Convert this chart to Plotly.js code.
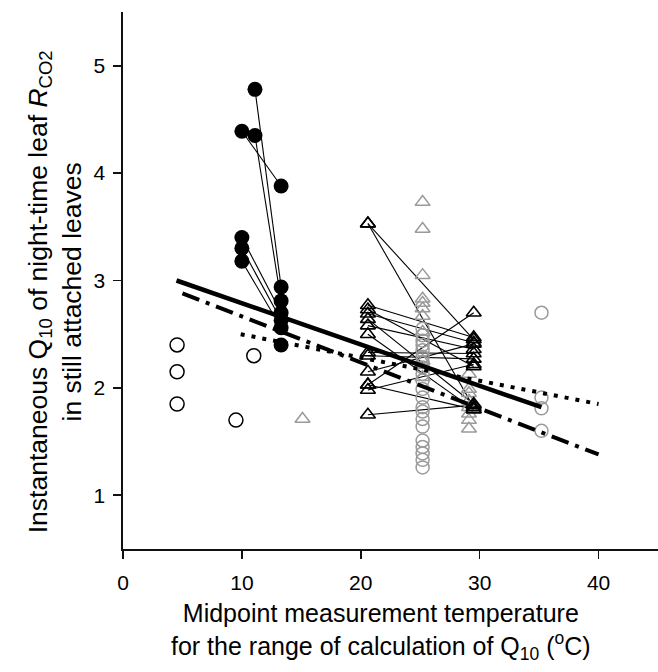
<!DOCTYPE html>
<html><head><meta charset="utf-8">
<script src="https://cdn.plot.ly/plotly-3.0.1.min.js"></script>
<style>html,body{margin:0;padding:0;background:#fff}#chart{width:658px;height:672px}</style>
</head><body><div id="chart"></div>
<script>
// Cool-temperature leaves (filled circles), paired Q10 at low and high midpoints
var coolT1 = [11.1, 10.0, 11.1, 10.0, 10.0, 10.0];
var coolQ1 = [4.78, 4.39, 4.35, 3.40, 3.30, 3.18];
var coolT2 = [13.3, 13.3, 13.3, 13.3, 13.3, 13.3];
var coolQ2 = [2.94, 3.88, 2.81, 2.70, 2.63, 2.56];
var coolExtraT = [13.3];
var coolExtraQ = [2.40];

// Warm-temperature leaves (black open triangles), paired
var warmT1 = [20.6,20.6,20.6,20.6,20.6,20.6,20.6,20.6,20.6,20.6,20.6,20.6,20.6,20.6,20.6];
var warmQ1 = [3.53,3.53,2.77,2.73,2.69,2.64,2.58,2.50,2.33,2.30,2.15,2.03,1.98,2.03,1.75];
var warmT2 = [29.5,29.5,29.5,29.5,29.5,29.5,29.5,29.5,29.5,29.5,29.5,29.5,29.5,29.5,29.5];
var warmQ2 = [2.45,1.82,2.47,2.20,2.42,1.85,2.36,1.80,2.32,2.27,2.41,2.70,2.22,1.80,1.84];

// Open black circles
var openBlackT = [4.55, 4.55, 4.55, 9.5, 11.0];
var openBlackQ = [2.40, 2.15, 1.85, 1.70, 2.30];

// Grey open triangles
var greyTriT = [15.1, 25.2,25.2,25.2,25.2,25.2,25.2,25.2,25.2,25.2,25.2, 29.1,29.1,29.1,29.1,29.1,29.1,29.1,29.1];
var greyTriQ = [1.71, 3.73,3.48,3.05,2.83,2.79,2.74,2.67,2.52,2.25,2.10, 2.13,1.99,1.95,1.88,1.82,1.76,1.70,1.62];

// Grey open circles
var greyCirT = [25.2,25.2,25.2,25.2,25.2,25.2,25.2,25.2,25.2,25.2,25.2,25.2,25.2,25.2,25.2,25.2,25.2,25.2,25.2,25.2,25.2, 35.2,35.2,35.2,35.2];
var greyCirQ = [2.55,2.49,2.44,2.40,2.35,2.29,2.24,2.19,2.13,2.07,1.99,1.91,1.82,1.78,1.71,1.64,1.51,1.45,1.39,1.33,1.26, 2.70,1.91,1.81,1.60];

// Regression lines
var fitSolidT = [4.5, 35.2];   var fitSolidQ = [3.00, 1.82];
var fitDashDotT = [5.0, 40.0]; var fitDashDotQ = [2.88, 1.38];
var fitDotT = [9.9, 40.0];     var fitDotQ = [2.50, 1.85];

var xTicks = [0, 10, 20, 30, 40];
var yTicks = [1, 2, 3, 4, 5];

var grey = '#9a9a9a';
var traces = [];

function pairs(t1, q1, t2, q2) {
  for (var i = 0; i < t1.length; i++) {
    traces.push({x: [t1[i], t2[i]], y: [q1[i], q2[i]], mode: 'lines', type: 'scatter',
      line: {color: '#000', width: 1.1}, hoverinfo: 'skip', showlegend: false});
  }
}
pairs(coolT1, coolQ1, coolT2, coolQ2);
pairs(warmT1, warmQ1, warmT2, warmQ2);

traces.push({x: greyCirT, y: greyCirQ, mode: 'markers', type: 'scatter', showlegend: false,
  marker: {symbol: 'circle-open', size: 13, color: grey, line: {width: 1.5, color: grey}}});
traces.push({x: greyTriT, y: greyTriQ, mode: 'markers', type: 'scatter', showlegend: false,
  marker: {symbol: 'triangle-up-open', size: 13, color: grey, line: {width: 1.5, color: grey}}});
traces.push({x: openBlackT, y: openBlackQ, mode: 'markers', type: 'scatter', showlegend: false,
  marker: {symbol: 'circle-open', size: 14, color: '#000', line: {width: 1.5, color: '#000'}}});

traces.push({x: fitSolidT, y: fitSolidQ, mode: 'lines', type: 'scatter', showlegend: false,
  line: {color: '#000', width: 4.5}});
traces.push({x: fitDashDotT, y: fitDashDotQ, mode: 'lines', type: 'scatter', showlegend: false,
  line: {color: '#000', width: 4, dash: '18px,7px,4px,7px'}});
traces.push({x: fitDotT, y: fitDotQ, mode: 'lines', type: 'scatter', showlegend: false,
  line: {color: '#000', width: 4, dash: '4px,7px'}});

var wT = warmT1.concat(warmT2), wQ = warmQ1.concat(warmQ2);
traces.push({x: wT, y: wQ, mode: 'markers', type: 'scatter', showlegend: false,
  marker: {symbol: 'triangle-up-open', size: 13, color: '#000', line: {width: 1.6, color: '#000'}}});
var cT = coolT1.concat(coolT2, coolExtraT), cQ = coolQ1.concat(coolQ2, coolExtraQ);
traces.push({x: cT, y: cQ, mode: 'markers', type: 'scatter', showlegend: false,
  marker: {symbol: 'circle', size: 15, color: '#000', line: {width: 0}}});

var font = 'Liberation Sans, Arial, sans-serif';
var layout = {
  width: 658, height: 672,
  margin: {l: 123, r: 0, t: 12, b: 123, pad: 0},
  paper_bgcolor: '#fff', plot_bgcolor: '#fff',
  showlegend: false,
  font: {family: font, size: 21, color: '#000'},
  xaxis: {range: [0, 45], tickvals: xTicks, ticktext: xTicks.map(String),
    showgrid: false, zeroline: false, showline: true, linecolor: '#111', linewidth: 1.6,
    ticks: 'outside', ticklen: 8, tickwidth: 1.6, tickcolor: '#111', ticklabelstandoff: 6,
    tickfont: {family: font, size: 21, color: '#000'}},
  yaxis: {range: [0.5, 5.5], tickvals: yTicks, ticktext: yTicks.map(String),
    showgrid: false, zeroline: false, showline: true, linecolor: '#111', linewidth: 1.6,
    ticks: 'outside', ticklen: 8, tickwidth: 1.6, tickcolor: '#111', ticklabelstandoff: 4,
    tickfont: {family: font, size: 21, color: '#000'}},
  annotations: [
    {xref: 'paper', yref: 'paper', x: (55 - 123) / 535, y: 0.478, xanchor: 'center', yanchor: 'middle',
     textangle: -90, showarrow: false, font: {family: font, size: 26.5, color: '#000'},
     text: 'Instantaneous Q<sub>10</sub> of night-time leaf <i>R</i><sub>CO2</sub><br>in still attached leaves'},
    {xref: 'paper', yref: 'paper', x: (381 - 123) / 535, y: -(632 - 549) / 537, xanchor: 'center', yanchor: 'middle',
     showarrow: false, font: {family: font, size: 25, color: '#000'},
     text: 'Midpoint measurement temperature<br>for the range of calculation of Q<sub>10</sub> (<sup>o</sup>C)'}
  ]
};
Plotly.newPlot('chart', traces, layout, {displayModeBar: false, staticPlot: true});
</script></body></html>
